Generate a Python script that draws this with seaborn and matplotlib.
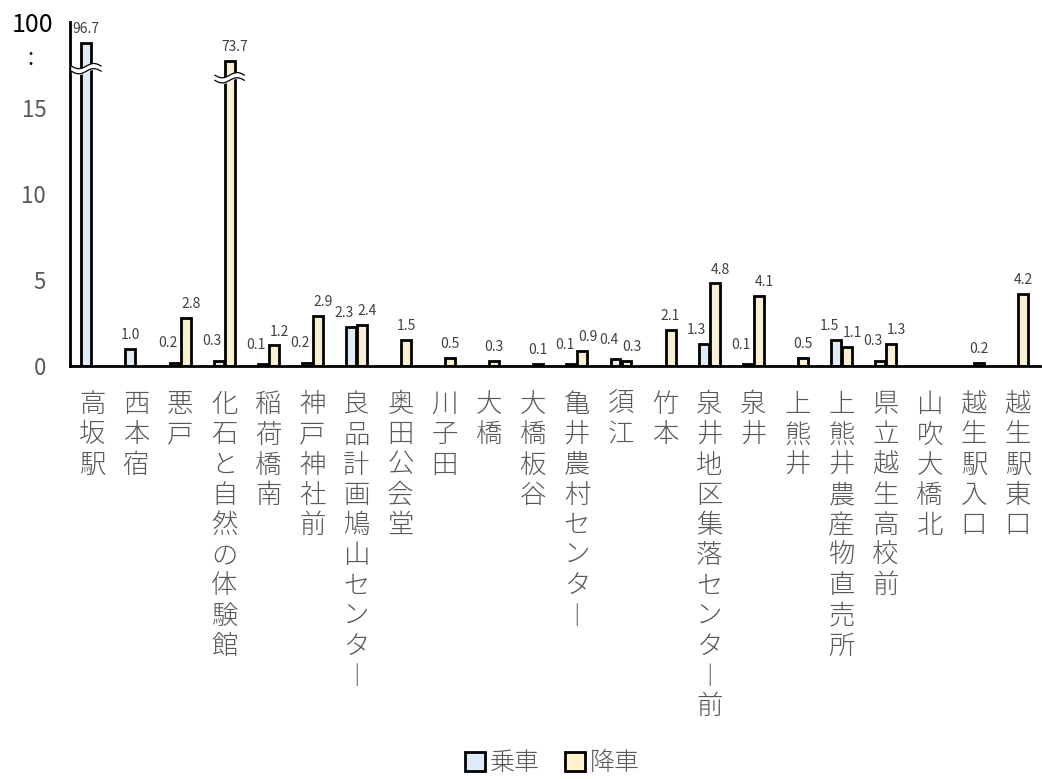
import numpy as np
import pandas as pd
import seaborn as sns
import matplotlib.pyplot as plt
from matplotlib.patches import Patch
from matplotlib.transforms import ScaledTranslation

# stops along the route (ー drawn in vertical form)
stops = ["高坂駅", "西本宿", "悪戸", "化石と自然の体験館", "稲荷橋南", "神戸神社前",
         "良品計画鳩山センター", "奥田公会堂", "川子田", "大橋", "大橋板谷",
         "亀井農村センター", "須江", "竹本", "泉井地区集落センター前", "泉井",
         "上熊井", "上熊井農産物直売所", "県立越生高校前", "山吹大橋北",
         "越生駅入口", "越生駅東口"]
board = [96.7, 1.0, 0.2, 0.3, 0.1, 0.2, 2.3, 0, 0, 0, 0,
         0.1, 0.4, 0, 1.3, 0.1, 0, 1.5, 0.3, 0, 0, 0]
alight = [0, 0, 2.8, 73.7, 1.2, 2.9, 2.4, 1.5, 0.5, 0.3, 0.1,
          0.9, 0.3, 2.1, 4.8, 4.1, 0.5, 1.1, 1.3, 0, 0.2, 4.2]
series = ["乗車", "降車"]
colors = ["#DEEBF7", "#FFF2CC"]

# broken axis: values above 15 are squeezed
BREAK = 15
SQUEEZE = 0.046


def squeeze(v):
    v = np.asarray(v, dtype=float)
    return np.where(v > BREAK, BREAK + (v - BREAK) * SQUEEZE, v)


df = pd.DataFrame({
    "stop": stops * 2,
    "kind": [series[0]] * len(stops) + [series[1]] * len(stops),
    "value": board + alight,
})
df["shown"] = squeeze(df["value"])

sns.set_style("white")
plt.rcParams["font.family"] = ["Noto Sans CJK JP", "DejaVu Sans"]

fig = plt.figure(figsize=(10.42, 7.79), dpi=100)
ax = fig.add_axes([0.067, 0.530, 0.931, 0.442])

sns.barplot(data=df, x="stop", y="shown", hue="kind", order=stops,
            hue_order=series, palette=colors, edgecolor="black",
            linewidth=2, width=0.5, gap=0.1, legend=False, ax=ax)

n = len(stops)
ax.set_xlim(-0.5, n - 0.5)
ax.set_ylim(0, 20)
ax.set_xlabel("")
ax.set_ylabel("")

# value labels + hide empty bars
both = [b > 0 and a > 0 for b, a in zip(board, alight)]
for k, (cont, vals) in enumerate(zip(ax.containers, [board, alight])):
    for i, (bar, v) in enumerate(zip(cont, vals)):
        if v == 0:
            bar.set_visible(False)
            continue
        top = bar.get_y() + bar.get_height()
        dx = (-5 if k == 0 else 4) if both[i] else 0
        dy = 9 if (v < 1 and k == 0) else 5
        ax.annotate(f"{v:.1f}", (bar.get_x() + bar.get_width() / 2, top),
                    xytext=(dx, dy), textcoords="offset points",
                    ha="center", va="bottom", fontsize=10, color="#404040")
        if v > BREAK:
            # wavy break mark across the bar
            cx = bar.get_x() + bar.get_width() / 2
            w = bar.get_width() * 1.5
            xs = np.linspace(cx - w, cx + w, 60)
            yc = (BREAK + top) / 2 + 0.4
            wave = 0.15 * np.sin((xs - cx) / w * np.pi)
            lo = yc + wave - 0.15
            hi = yc + wave + 0.15
            ax.fill_between(xs, lo, hi, color="white", zorder=5)
            ax.plot(xs, lo, color="black", lw=0.9, zorder=6)
            ax.plot(xs, hi, color="black", lw=0.9, zorder=6)

# x axis: ticks at category boundaries, vertical labels
ax.set_xticks(np.arange(-0.5, n, 1))
ax.set_xticklabels([])
ax.tick_params(axis="x", direction="out", length=8, width=1.5, color="black")
for i, s in enumerate(stops):
    txt = "\n".join(s.replace("ー", "︱"))
    ax.text(i, -0.07, txt, transform=ax.get_xaxis_transform(),
            ha="center", va="top", fontsize=19, linespacing=1.1,
            color="#595959", fontweight="light")

# y axis with break
ax.set_yticks([0, 5, 10, 15, 18, 20])
ax.set_yticklabels(["0", "5", "10", "15", ":", "100"])
ax.tick_params(axis="y", direction="out", length=7, width=1.5,
               color="black", labelsize=16, labelcolor="#595959", pad=10)
labs = ax.get_yticklabels()
labs[-1].set_color("black")
labs[-1].set_fontsize(18)
labs[-1].set_transform(labs[-1].get_transform()
                       + ScaledTranslation(5 / 72, 0, fig.dpi_scale_trans))
labs[4].set_color("black")
labs[4].set_transform(labs[4].get_transform()
                      + ScaledTranslation(-9 / 72, 0, fig.dpi_scale_trans))
ax.yaxis.get_major_ticks()[4].tick1line.set_visible(False)

sns.despine(ax=ax)
for sp in ["left", "bottom"]:
    ax.spines[sp].set_linewidth(2)
    ax.spines[sp].set_color("black")

handles = [Patch(facecolor=c, edgecolor="black", linewidth=2) for c in colors]
leg = fig.legend(handles, series, loc="lower center", ncol=2,
                 bbox_to_anchor=(0.53, -0.025), frameon=False, fontsize=18,
                 handlelength=0.8, handleheight=0.8, handletextpad=0.2,
                 columnspacing=1.0)
for t in leg.get_texts():
    t.set_color("#595959")
    t.set_fontweight("light")

fig.savefig("out.png", dpi=100)
